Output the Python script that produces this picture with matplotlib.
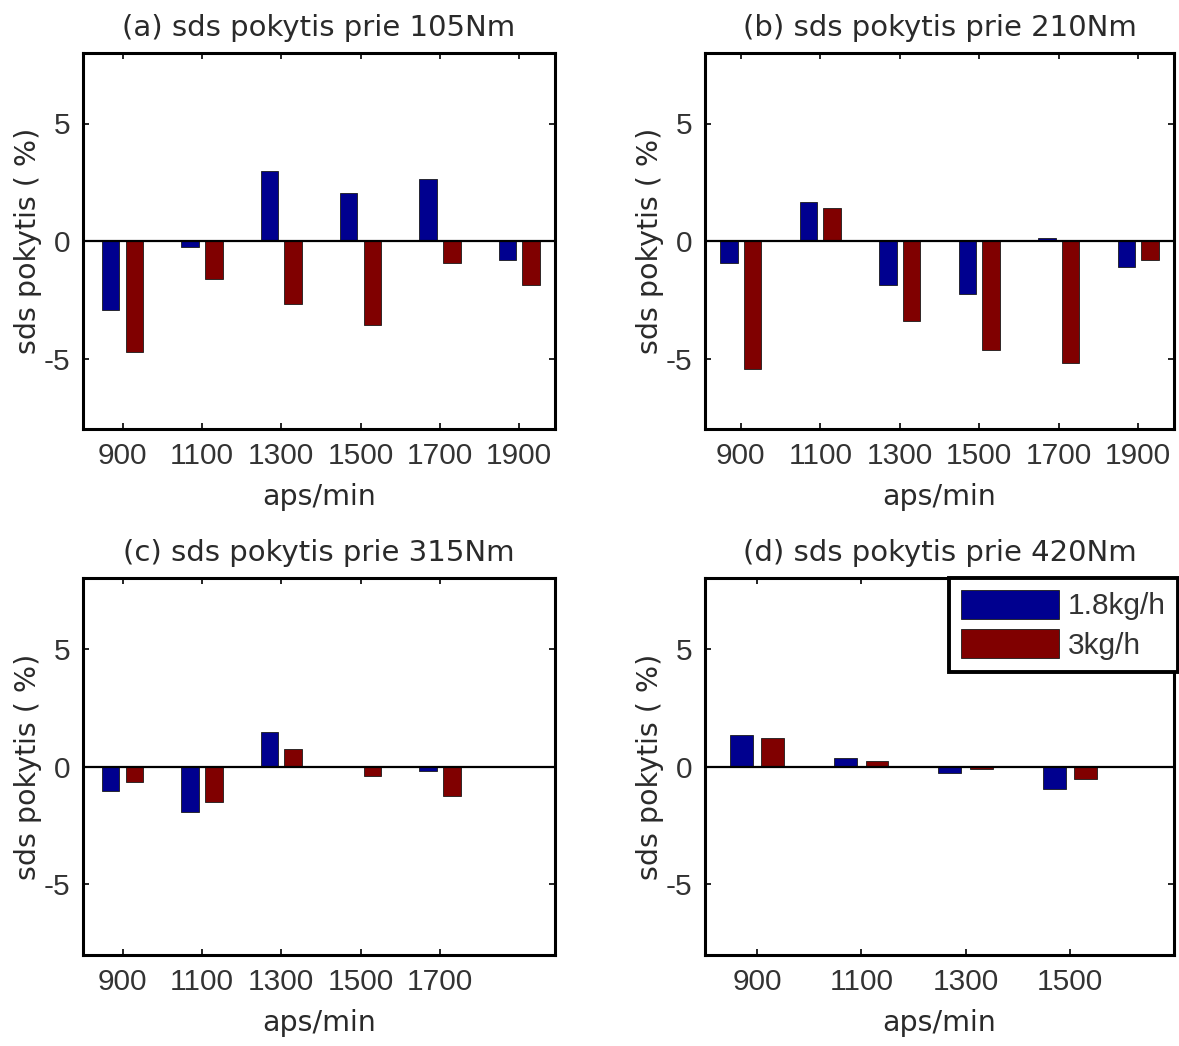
import numpy as np
import matplotlib.pyplot as plt

# aps/min categories for each panel
speed_a = [900, 1100, 1300, 1500, 1700, 1900]
speed_b = [900, 1100, 1300, 1500, 1700, 1900]
speed_c = [900, 1100, 1300, 1500, 1700]
speed_d = [900, 1100, 1300, 1500]

# sds pokytis (%) for 1.8kg/h and 3kg/h
low_a = [-2.95, -0.24, 2.98, 2.03, 2.62, -0.82]
high_a = [-4.71, -1.60, -2.70, -3.57, -0.92, -1.89]

low_b = [-0.92, 1.67, -1.89, -2.24, 0.14, -1.09]
high_b = [-5.46, 1.39, -3.40, -4.65, -5.18, -0.82]

low_c = [-1.06, -1.95, 1.48, -0.03, -0.20]
high_c = [-0.64, -1.50, 0.75, -0.39, -1.24]

low_d = [1.33, 0.34, -0.28, -0.96]
high_d = [1.23, 0.24, -0.11, -0.54]

titles = ['(a) sds pokytis prie 105Nm', '(b) sds pokytis prie 210Nm',
          '(c) sds pokytis prie 315Nm', '(d) sds pokytis prie 420Nm']
series_names = ['1.8kg/h', '3kg/h']

col_low = '#00008f'
col_high = '#800000'
txt_col = '#2a2a2a'

W, H = 1179, 1046
fig = plt.figure(figsize=(W/100, H/100), dpi=100)

def px_rect(x0, y0, x1, y1):
    return [x0/W, 1 - y1/H, (x1-x0)/W, (y1-y0)/H]

panels = [
    (px_rect(83, 53, 555, 429), speed_a, low_a, high_a, (0.5, 6.45)),
    (px_rect(705, 53, 1174, 429), speed_b, low_b, high_b, (0.55, 6.45)),
    (px_rect(83, 578, 555, 955), speed_c, low_c, high_c, (0.5, 6.45)),
    (px_rect(705, 578, 1174, 955), speed_d, low_d, high_d, (0.5, 5.0)),
]

width = 0.22
off = 0.15

for i, (rect, speeds, low, high, xl) in enumerate(panels):
    ax = fig.add_axes(rect)
    pos = np.arange(1, len(speeds) + 1)
    ax.bar(pos - off, low, width, color=col_low, edgecolor='#1a1a1a', linewidth=0.6,
           label=series_names[0], zorder=2)
    ax.bar(pos + off, high, width, color=col_high, edgecolor='#1a1a1a', linewidth=0.6,
           label=series_names[1], zorder=2)
    ax.axhline(0, color='black', linewidth=1.6, zorder=3)

    ax.set_xlim(*xl)
    ax.set_ylim(-8, 8)
    ax.set_xticks(pos)
    ax.set_xticklabels([str(s) for s in speeds], fontfamily='Liberation Sans')
    ax.set_yticks([-5, 0, 5])
    ax.set_yticklabels(['-5', '0', '5'], fontfamily='Liberation Sans')
    ax.tick_params(direction='in', length=4, width=1.2, top=True, right=True,
                   labelsize=21.5, labelcolor='#333333', pad=9)
    for sp in ax.spines.values():
        sp.set_linewidth(2.2)

    ax.set_title(titles[i], fontsize=21, color=txt_col, pad=12)
    ax.set_xlabel('aps/min', fontsize=20.5, color=txt_col, labelpad=10)
    ax.set_ylabel('sds pokytis ( %)', fontsize=20.5, color=txt_col, labelpad=1)

    if i == 3:
        leg = ax.legend(loc='upper right', bbox_to_anchor=(1178/W, 1 - 578/H),
                        bbox_transform=fig.transFigure, borderaxespad=0,
                        prop={'family': 'Liberation Sans', 'size': 21.5},
                        handlelength=3.3, handleheight=1.1, handletextpad=0.3,
                        labelspacing=0.3, borderpad=0.4, fancybox=False,
                        framealpha=1, edgecolor='black')
        leg.get_frame().set_linewidth(2.8)
        for t in leg.get_texts():
            t.set_color('#333333')

fig.savefig('out.png', dpi=100)
